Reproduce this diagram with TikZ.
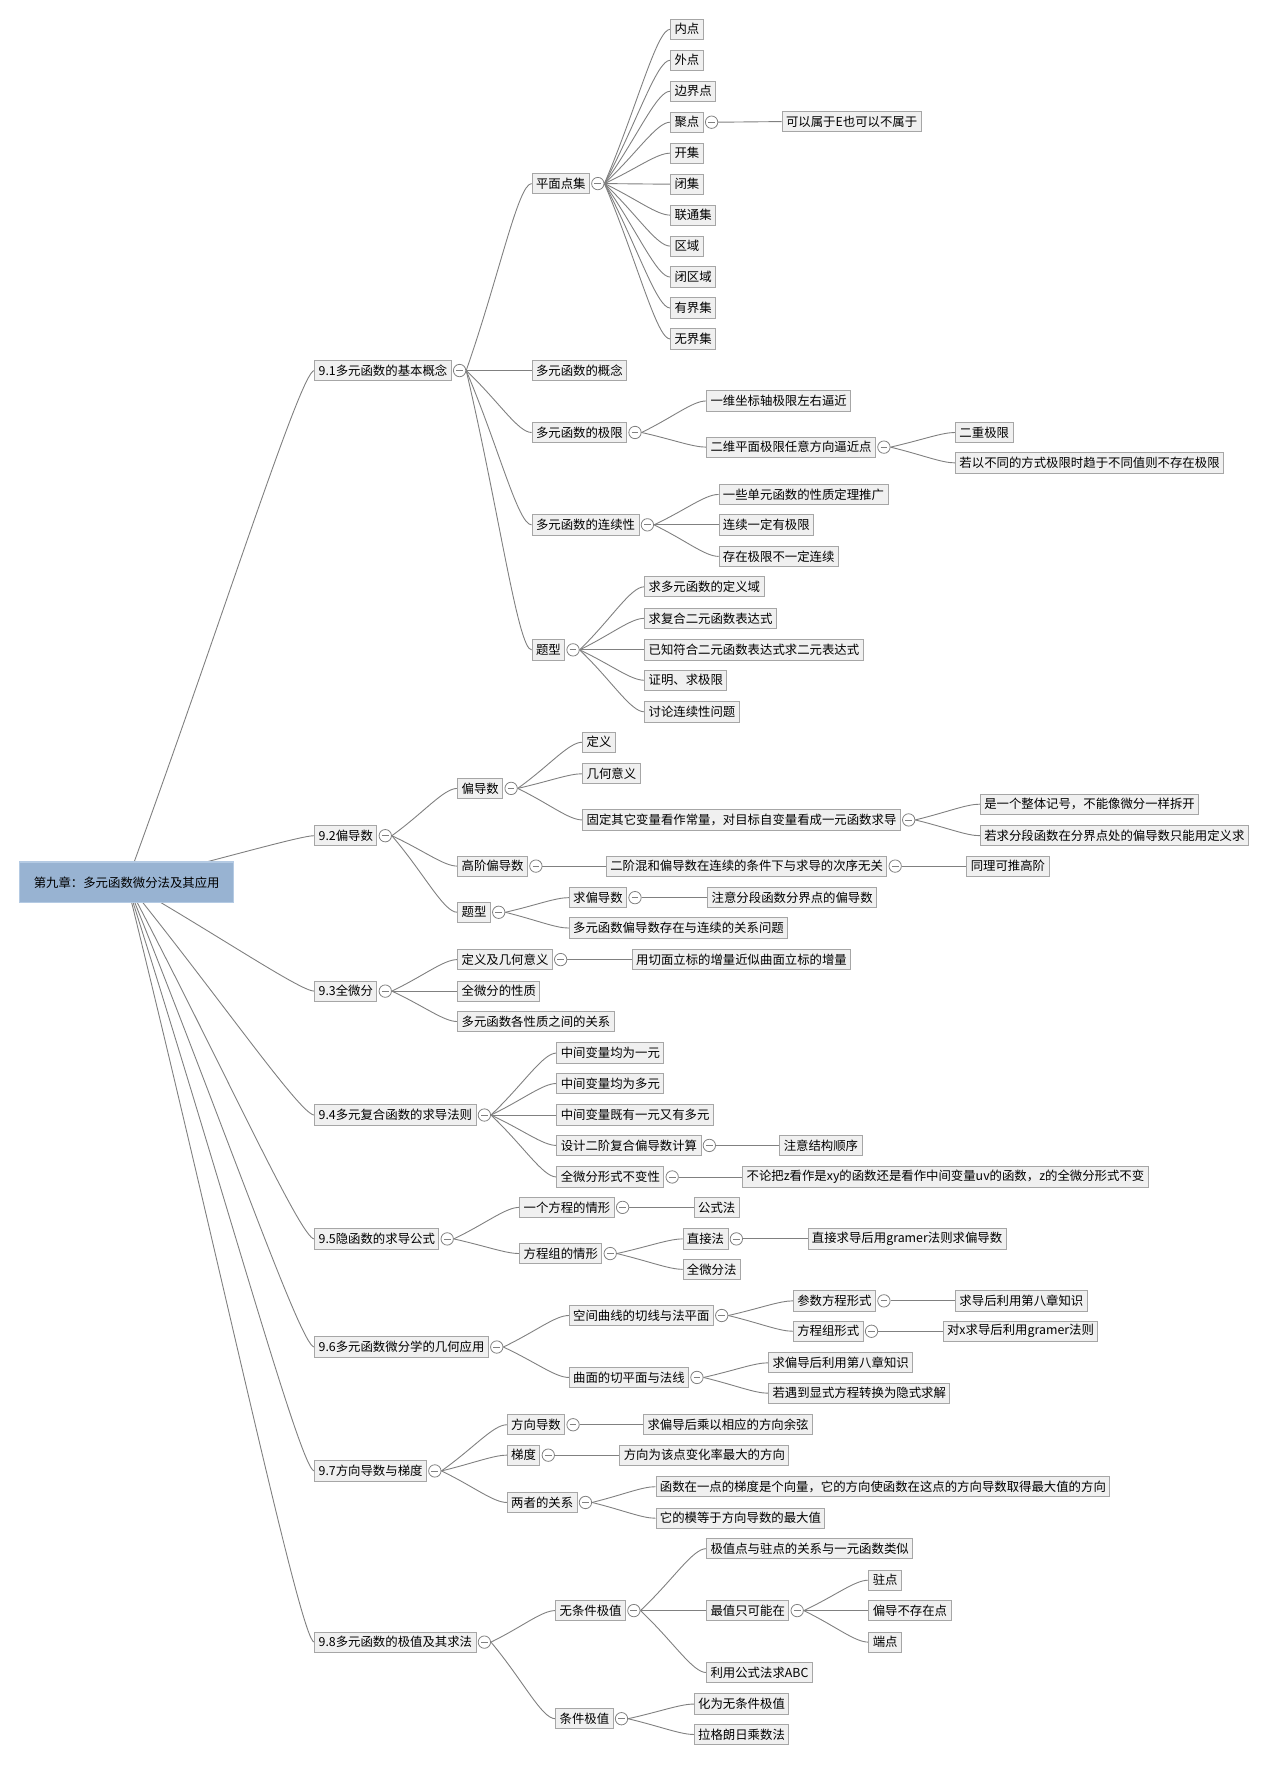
\documentclass[tikz,border=0pt]{standalone}
\usepackage{fontspec}
\setmainfont{Noto Sans CJK SC}
\usetikzlibrary{calc,backgrounds}
\definecolor{boxfill}{HTML}{F0F0F0}
\definecolor{boxline}{HTML}{A6A6A6}
\definecolor{edgegray}{HTML}{808080}
\definecolor{rootfill}{HTML}{98B3D2}
\definecolor{rootline}{HTML}{B4CAE3}
\tikzset{
	topicbox/.style={draw=boxline, fill=boxfill, line width=0.8pt, anchor=west, minimum height=18pt, inner xsep=3.5pt, inner ysep=0pt, font=\fontsize{11}{12}\selectfont},
	rootbox/.style={draw=rootline, fill=rootfill, line width=1.2pt, minimum width=190pt, minimum height=36pt, font=\fontsize{11}{12}\selectfont},
	foldmark/.style={circle, draw=edgegray, fill=white, line width=0.7pt, minimum size=11pt, inner sep=0pt,
		path picture={\draw[edgegray, line width=0.7pt] ([xshift=2.5pt]path picture bounding box.west) -- ([xshift=-2.5pt]path picture bounding box.east);}},
	branchline/.style={draw=edgegray, line width=0.8pt,
		to path={.. controls ($(\tikztostart)!0.5!(\tikztotarget)$) and ($(\tikztotarget)+(-12,0)$) .. (\tikztotarget)}}
}
\newcommand{\fold}[1]{\node[foldmark] (#1o) at ([xshift=7pt]#1.east) {};}

\begin{document}
\begin{tikzpicture}[x=1pt,y=-1pt]
	\useasboundingbox (0,0) rectangle (1126,1568);
	
	\node[rootbox] (r) at (112.5,783.5) {第九章：多元函数微分法及其应用};
	
	\node[topicbox] (s1) at (279,329) {9.1多元函数的基本概念};
	\node[topicbox] (s2) at (279,742) {9.2偏导数};
	\node[topicbox] (s3) at (279,880) {9.3全微分};
	\node[topicbox] (s4) at (279,990) {9.4多元复合函数的求导法则};
	\node[topicbox] (s5) at (279,1100) {9.5隐函数的求导公式};
	\node[topicbox] (s6) at (279,1196) {9.6多元函数微分学的几何应用};
	\node[topicbox] (s7) at (279,1306) {9.7方向导数与梯度};
	\node[topicbox] (s8) at (279,1458) {9.8多元函数的极值及其求法};
	\foreach \k in {1,...,8}
	{
		\fold{s\k}
	}
	
	\node[topicbox] (s1a) at (472,163) {平面点集};
	\node[topicbox] (s1b) at (472,329) {多元函数的概念};
	\node[topicbox] (s1c) at (472,384) {多元函数的极限};
	\node[topicbox] (s1d) at (472,466) {多元函数的连续性};
	\node[topicbox] (s1e) at (472,577) {题型};
	\fold{s1a} \fold{s1c} \fold{s1d} \fold{s1e}
	
	\foreach \t [count=\i] in {内点,外点,边界点,聚点,开集,闭集,联通集,区域,闭区域,有界集,无界集}
	{
		\node[topicbox] (p\i) at (595,{26+27.5*(\i-1)}) {\t};
	}
	\fold{p4}
	\node[topicbox] (p4a) at (694,108) {可以属于E也可以不属于};
	
	\node[topicbox] (s1c1) at (627,356) {一维坐标轴极限左右逼近};
	\node[topicbox] (s1c2) at (627,397) {二维平面极限任意方向逼近点};
	\fold{s1c2}
	\node[topicbox] (s1c2a) at (848,384) {二重极限};
	\node[topicbox] (s1c2b) at (848,411) {若以不同的方式极限时趋于不同值则不存在极限};
	
	\node[topicbox] (s1d1) at (638,439) {一些单元函数的性质定理推广};
	\node[topicbox] (s1d2) at (638,466) {连续一定有极限};
	\node[topicbox] (s1d3) at (638,494) {存在极限不一定连续};
	
	\node[topicbox] (s1e1) at (572,521) {求多元函数的定义域};
	\node[topicbox] (s1e2) at (572,549) {求复合二元函数表达式};
	\node[topicbox] (s1e3) at (572,577) {已知符合二元函数表达式求二元表达式};
	\node[topicbox] (s1e4) at (572,604) {证明、求极限};
	\node[topicbox] (s1e5) at (572,632) {讨论连续性问题};
	
	\node[topicbox] (s2a) at (406,700) {偏导数};
	\node[topicbox] (s2b) at (406,769) {高阶偏导数};
	\node[topicbox] (s2c) at (406,810) {题型};
	\fold{s2a} \fold{s2b} \fold{s2c}
	\node[topicbox] (s2a1) at (517,659) {定义};
	\node[topicbox] (s2a2) at (517,687) {几何意义};
	\node[topicbox] (s2a3) at (517,728) {固定其它变量看作常量，对目标自变量看成一元函数求导};
	\fold{s2a3}
	\node[topicbox] (s2a3a) at (870,714) {是一个整体记号，不能像微分一样拆开};
	\node[topicbox] (s2a3b) at (870,742) {若求分段函数在分界点处的偏导数只能用定义求};
	\node[topicbox] (s2b1) at (538,769) {二阶混和偏导数在连续的条件下与求导的次序无关};
	\fold{s2b1}
	\node[topicbox] (s2b1a) at (858,769) {同理可推高阶};
	\node[topicbox] (s2c1) at (505,797) {求偏导数};
	\fold{s2c1}
	\node[topicbox] (s2c1a) at (628,797) {注意分段函数分界点的偏导数};
	\node[topicbox] (s2c2) at (505,824) {多元函数偏导数存在与连续的关系问题};
	
	\node[topicbox] (s3a) at (406,852) {定义及几何意义};
	\fold{s3a}
	\node[topicbox] (s3a1) at (561,852) {用切面立标的增量近似曲面立标的增量};
	\node[topicbox] (s3b) at (406,880) {全微分的性质};
	\node[topicbox] (s3c) at (406,907) {多元函数各性质之间的关系};
	
	\node[topicbox] (s4a) at (494,935) {中间变量均为一元};
	\node[topicbox] (s4b) at (494,962) {中间变量均为多元};
	\node[topicbox] (s4c) at (494,990) {中间变量既有一元又有多元};
	\node[topicbox] (s4d) at (494,1017) {设计二阶复合偏导数计算};
	\node[topicbox] (s4e) at (494,1045) {全微分形式不变性};
	\fold{s4d} \fold{s4e}
	\node[topicbox] (s4d1) at (692,1017) {注意结构顺序};
	\node[topicbox] (s4e1) at (659,1045) {不论把z看作是xy的函数还是看作中间变量uv的函数，z的全微分形式不变};
	
	\node[topicbox] (s5a) at (461,1072) {一个方程的情形};
	\node[topicbox] (s5b) at (461,1113) {方程组的情形};
	\fold{s5a} \fold{s5b}
	\node[topicbox] (s5a1) at (616,1072) {公式法};
	\node[topicbox] (s5b1) at (606,1100) {直接法};
	\fold{s5b1}
	\node[topicbox] (s5b1a) at (717,1100) {直接求导后用gramer法则求偏导数};
	\node[topicbox] (s5b2) at (606,1127) {全微分法};
	
	\node[topicbox] (s6a) at (505,1168) {空间曲线的切线与法平面};
	\node[topicbox] (s6b) at (505,1223) {曲面的切平面与法线};
	\fold{s6a} \fold{s6b}
	\node[topicbox] (s6a1) at (704,1155) {参数方程形式};
	\node[topicbox] (s6a2) at (704,1182) {方程组形式};
	\fold{s6a1} \fold{s6a2}
	\node[topicbox] (s6a1a) at (848,1155) {求导后利用第八章知识};
	\node[topicbox] (s6a2a) at (837,1182) {对x求导后利用gramer法则};
	\node[topicbox] (s6b1) at (682,1210) {求偏导后利用第八章知识};
	\node[topicbox] (s6b2) at (682,1237) {若遇到显式方程转换为隐式求解};
	
	\node[topicbox] (s7a) at (450,1265) {方向导数};
	\node[topicbox] (s7b) at (450,1292) {梯度};
	\node[topicbox] (s7c) at (450,1334) {两者的关系};
	\fold{s7a} \fold{s7b} \fold{s7c}
	\node[topicbox] (s7a1) at (571,1265) {求偏导后乘以相应的方向余弦};
	\node[topicbox] (s7b1) at (550,1292) {方向为该点变化率最大的方向};
	\node[topicbox] (s7c1) at (582,1320) {函数在一点的梯度是个向量，它的方向使函数在这点的方向导数取得最大值的方向};
	\node[topicbox] (s7c2) at (582,1348) {它的模等于方向导数的最大值};
	
	\node[topicbox] (s8a) at (493,1430) {无条件极值};
	\node[topicbox] (s8b) at (493,1526) {条件极值};
	\fold{s8a} \fold{s8b}
	\node[topicbox] (s8a1) at (627,1375) {极值点与驻点的关系与一元函数类似};
	\node[topicbox] (s8a2) at (627,1430) {最值只可能在};
	\node[topicbox] (s8a3) at (627,1485) {利用公式法求ABC};
	\fold{s8a2}
	\node[topicbox] (s8a2a) at (771,1403) {驻点};
	\node[topicbox] (s8a2b) at (771,1430) {偏导不存在点};
	\node[topicbox] (s8a2c) at (771,1458) {端点};
	\node[topicbox] (s8b1) at (616,1513) {化为无条件极值};
	\node[topicbox] (s8b2) at (616,1540) {拉格朗日乘数法};
	
	\begin{scope}[on background layer]
		\foreach \k in {1,...,8}
		{
			\draw[branchline] (r.center) to (s\k.west);
		}
		\foreach \c in {a,b,c,d,e}
		{
			\draw[branchline] (s1o.east) to (s1\c.west);
		}
		\foreach \i in {1,...,11}
		{
			\draw[branchline] (s1ao.east) to (p\i.west);
		}
		\draw[branchline] (p4o.east) to (p4a.west);
		\draw[branchline] (s1co.east) to (s1c1.west);
		\draw[branchline] (s1co.east) to (s1c2.west);
		\draw[branchline] (s1c2o.east) to (s1c2a.west);
		\draw[branchline] (s1c2o.east) to (s1c2b.west);
		\foreach \i in {1,2,3}
		{
			\draw[branchline] (s1do.east) to (s1d\i.west);
		}
		\foreach \i in {1,...,5}
		{
			\draw[branchline] (s1eo.east) to (s1e\i.west);
		}
		
		\foreach \c in {a,b,c}
		{
			\draw[branchline] (s2o.east) to (s2\c.west);
		}
		\foreach \i in {1,2,3}
		{
			\draw[branchline] (s2ao.east) to (s2a\i.west);
		}
		\draw[branchline] (s2a3o.east) to (s2a3a.west);
		\draw[branchline] (s2a3o.east) to (s2a3b.west);
		\draw[branchline] (s2bo.east) to (s2b1.west);
		\draw[branchline] (s2b1o.east) to (s2b1a.west);
		\draw[branchline] (s2co.east) to (s2c1.west);
		\draw[branchline] (s2co.east) to (s2c2.west);
		\draw[branchline] (s2c1o.east) to (s2c1a.west);
		
		\foreach \c in {a,b,c}
		{
			\draw[branchline] (s3o.east) to (s3\c.west);
		}
		\draw[branchline] (s3ao.east) to (s3a1.west);
		
		\foreach \c in {a,b,c,d,e}
		{
			\draw[branchline] (s4o.east) to (s4\c.west);
		}
		\draw[branchline] (s4do.east) to (s4d1.west);
		\draw[branchline] (s4eo.east) to (s4e1.west);
		
		\draw[branchline] (s5o.east) to (s5a.west);
		\draw[branchline] (s5o.east) to (s5b.west);
		\draw[branchline] (s5ao.east) to (s5a1.west);
		\draw[branchline] (s5bo.east) to (s5b1.west);
		\draw[branchline] (s5bo.east) to (s5b2.west);
		\draw[branchline] (s5b1o.east) to (s5b1a.west);
		
		\draw[branchline] (s6o.east) to (s6a.west);
		\draw[branchline] (s6o.east) to (s6b.west);
		\draw[branchline] (s6ao.east) to (s6a1.west);
		\draw[branchline] (s6ao.east) to (s6a2.west);
		\draw[branchline] (s6a1o.east) to (s6a1a.west);
		\draw[branchline] (s6a2o.east) to (s6a2a.west);
		\draw[branchline] (s6bo.east) to (s6b1.west);
		\draw[branchline] (s6bo.east) to (s6b2.west);
		
		\foreach \c in {a,b,c}
		{
			\draw[branchline] (s7o.east) to (s7\c.west);
		}
		\draw[branchline] (s7ao.east) to (s7a1.west);
		\draw[branchline] (s7bo.east) to (s7b1.west);
		\draw[branchline] (s7co.east) to (s7c1.west);
		\draw[branchline] (s7co.east) to (s7c2.west);
		
		\draw[branchline] (s8o.east) to (s8a.west);
		\draw[branchline] (s8o.east) to (s8b.west);
		\foreach \i in {1,2,3}
		{
			\draw[branchline] (s8ao.east) to (s8a\i.west);
		}
		\foreach \c in {a,b,c}
		{
			\draw[branchline] (s8a2o.east) to (s8a2\c.west);
		}
		\draw[branchline] (s8bo.east) to (s8b1.west);
		\draw[branchline] (s8bo.east) to (s8b2.west);
	\end{scope}
	
\end{tikzpicture}
\end{document}
